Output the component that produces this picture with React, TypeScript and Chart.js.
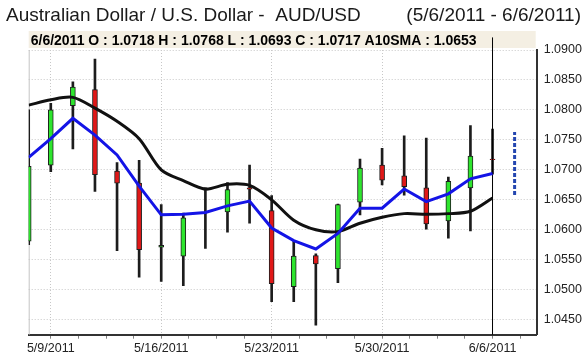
import React, { useEffect, useRef } from 'react';
import { Chart, registerables } from 'chart.js';

Chart.register(...registerables);

// ---- data ----
const dates = ['5/6/2011', '5/9/2011', '5/10/2011', '5/11/2011', '5/12/2011', '5/13/2011', '5/16/2011', '5/17/2011', '5/18/2011', '5/19/2011', '5/20/2011', '5/23/2011', '5/24/2011', '5/25/2011', '5/26/2011', '5/27/2011', '5/30/2011', '5/31/2011', '6/1/2011', '6/2/2011', '6/3/2011', '6/6/2011'];
const opens = [1.0581, 1.0708, 1.0807, 1.0834, 1.0698, 1.0678, 1.0571, 1.0556, 1.0668, 1.0630, 1.0670, 1.0632, 1.0505, 1.0557, 1.0535, 1.0646, 1.0708, 1.0690, 1.0670, 1.0615, 1.0670, 1.0718];
const highs = [1.0800, 1.0811, 1.0847, 1.0885, 1.0712, 1.0716, 1.0642, 1.0628, 1.0670, 1.0679, 1.0708, 1.0657, 1.0582, 1.0560, 1.0643, 1.0718, 1.0736, 1.0757, 1.0753, 1.0688, 1.0774, 1.0768];
const lows = [1.0575, 1.0697, 1.0735, 1.0664, 1.0565, 1.0521, 1.0514, 1.0507, 1.0569, 1.0596, 1.0611, 1.0480, 1.0480, 1.0441, 1.0512, 1.0625, 1.0675, 1.0658, 1.0601, 1.0586, 1.0598, 1.0693];
const closes = [1.0706, 1.0800, 1.0838, 1.0692, 1.0678, 1.0567, 1.0574, 1.0620, 1.0666, 1.0667, 1.0668, 1.0510, 1.0556, 1.0543, 1.0642, 1.0703, 1.0683, 1.0672, 1.0610, 1.0681, 1.0723, 1.0717];
const sma10 = [1.0808, 1.0817, 1.0821, 1.0803, 1.0781, 1.0752, 1.0700, 1.0682, 1.0668, 1.0676, 1.0674, 1.0650, 1.0616, 1.0600, 1.0597, 1.0611, 1.0621, 1.0627, 1.0626, 1.0627, 1.0631, 1.0653];
const sma5 = [1.0721, 1.0752, 1.0786, 1.0758, 1.0725, 1.0673, 1.0625, 1.0626, 1.0629, 1.0640, 1.0648, 1.0603, 1.0582, 1.0568, 1.0594, 1.0636, 1.0636, 1.0668, 1.0647, 1.0660, 1.0685, 1.0694];
const projectionRange = [1.0658, 1.0763];
const yTicks = [1.045, 1.05, 1.055, 1.06, 1.065, 1.07, 1.075, 1.08, 1.085, 1.09];
const titleMain = 'Australian Dollar / U.S. Dollar -  AUD/USD';
const titleRange = '(5/6/2011 - 6/6/2011)';

const Y_MIN = 1.0425;
const Y_MAX = 1.09;
const X_MIN = 0;
const X_MAX = 23;
const FONT = '"Liberation Sans", Arial, sans-serif';

const last = dates.length - 1;
const f4 = (v: number) => v.toFixed(4);
const infoText = `${dates[last]} O : ${f4(opens[last])} H : ${f4(highs[last])} L : ${f4(lows[last])} C : ${f4(closes[last])} A10SMA : ${f4(sma10[last])}`;

const decorPlugin = {
  id: 'decor',
  beforeDatasetsDraw(chart: any) {
    const { ctx, chartArea } = chart;
    ctx.save();
    // left plot border
    ctx.strokeStyle = '#c4c4c4';
    ctx.lineWidth = 1;
    ctx.beginPath();
    ctx.moveTo(chartArea.left + 0.5, chartArea.top);
    ctx.lineTo(chartArea.left + 0.5, chartArea.bottom);
    ctx.stroke();
    // info box
    ctx.fillStyle = '#f4efe3';
    ctx.fillRect(chartArea.left, 31, chartArea.right - chartArea.left - 1, 17);
    ctx.fillStyle = '#000';
    ctx.font = `bold 14px ${FONT}`;
    ctx.textAlign = 'left';
    ctx.textBaseline = 'alphabetic';
    ctx.fillText(infoText, chartArea.left + 2, 44.5);
    // title
    ctx.fillStyle = '#1a1a1a';
    ctx.font = `19px ${FONT}`;
    ctx.textAlign = 'left';
    ctx.fillText(titleMain, 6, 21);
    ctx.textAlign = 'right';
    ctx.fillText(titleRange, 581, 21);
    ctx.restore();
  },
};

const GREEN = '#2ee52e';
const RED = '#e01818';

export default function App() {
  const ref = useRef<HTMLCanvasElement | null>(null);
  useEffect(() => {
    if (!ref.current) return;
    const idx = dates.map((_, i) => i);
    const chart = new Chart(ref.current, {
      type: 'bar',
      data: {
        datasets: [
          {
            type: 'line',
            label: 'SMA5',
            data: idx.map((i) => ({ x: i, y: sma5[i] })),
            borderColor: '#1414e6',
            borderWidth: 3,
            pointRadius: 0,
            tension: 0,
            order: 1,
          } as any,
          {
            type: 'line',
            label: 'A10SMA',
            data: idx.map((i) => ({ x: i, y: sma10[i] })),
            borderColor: '#111111',
            borderWidth: 3,
            pointRadius: 0,
            tension: 0.3,
            order: 2,
          } as any,
          {
            type: 'line',
            label: 'cursor',
            data: [{ x: last, y: Y_MIN }, { x: last, y: 1.0921 }],
            borderColor: '#000',
            borderWidth: 1,
            pointRadius: 0,
            clip: false,
            order: 3,
          } as any,
          {
            type: 'line',
            label: 'projection',
            data: projectionRange.map((v) => ({ x: dates.length, y: v })),
            borderColor: '#2446b0',
            borderWidth: 3,
            borderDash: [4, 2],
            pointRadius: 0,
            order: 3,
          } as any,
          {
            type: 'bar',
            label: 'body',
            data: idx.map((i) => ({ x: i, y: [opens[i], closes[i]] })),
            backgroundColor: idx.map((i) => (closes[i] >= opens[i] ? GREEN : RED)),
            borderColor: '#1e1e1e',
            borderWidth: 1,
            borderSkipped: false,
            barThickness: 5,
            grouped: false,
            order: 4,
          } as any,
          {
            type: 'bar',
            label: 'wick',
            data: idx.map((i) => ({ x: i, y: [lows[i], highs[i]] })),
            backgroundColor: '#1c1c1c',
            borderWidth: 0,
            barThickness: 2,
            grouped: false,
            order: 5,
          } as any,
        ],
      },
      options: {
        animation: false,
        responsive: false,
        devicePixelRatio: 1,
        events: [],
        layout: { padding: { left: 28.7, top: 50, right: 0, bottom: 0 } },
        plugins: { legend: { display: false }, tooltip: { enabled: false }, title: { display: false } },
        scales: {
          x: {
            type: 'linear',
            min: X_MIN,
            max: X_MAX,
            offset: false,
            afterBuildTicks: (scale: any) => {
              const t = [];
              for (let v = 1; v <= X_MAX; v += 1.25) t.push({ value: v });
              scale.ticks = t;
            },
            afterFit: (scale: any) => {
              scale.height = 21.3;
            },
            grid: {
              offset: false,
              color: (c: any) => (c.tick && Number.isInteger(c.tick.value) && (c.tick.value - 1) % 5 === 0 ? '#c8c8c8' : 'rgba(0,0,0,0)'),
              lineWidth: 1,
              drawTicks: true,
              tickLength: 4,
              tickColor: '#808080',
              tickWidth: 1,
              tickBorderDash: [],
            },
            border: { display: true, color: '#333', width: 2, dash: [1, 2] },
            ticks: {
              autoSkip: false,
              maxRotation: 0,
              padding: 2,
              color: '#222',
              font: { family: FONT, size: 12.5 },
              callback: (v: any) => {
                const n = Number(v);
                if (Number.isInteger(n) && (n - 1) % 5 === 0 && dates[n]) return dates[n];
                return '';
              },
            },
          },
          y: {
            type: 'linear',
            position: 'right',
            min: Y_MIN,
            max: Y_MAX,
            afterBuildTicks: (scale: any) => {
              scale.ticks = yTicks.map((v) => ({ value: v }));
            },
            afterFit: (scale: any) => {
              scale.width = 47.3;
            },
            grid: {
              color: '#c8c8c8',
              lineWidth: 1,
              drawTicks: false,
            },
            border: { display: true, color: '#333', width: 2, dash: [1, 2] },
            ticks: {
              padding: 7,
              color: '#222',
              font: { family: FONT, size: 12.5 },
              callback: (v: any) => Number(v).toFixed(4),
            },
          },
        },
      },
      plugins: [decorPlugin],
    } as any);
    return () => chart.destroy();
  }, []);
  return (
    <div style={{ position: 'absolute', left: 0, top: 0, width: 584, height: 356, background: '#fff' }}>
      <canvas ref={ref} width={584} height={356} style={{ display: 'block' }} />
    </div>
  );
}
